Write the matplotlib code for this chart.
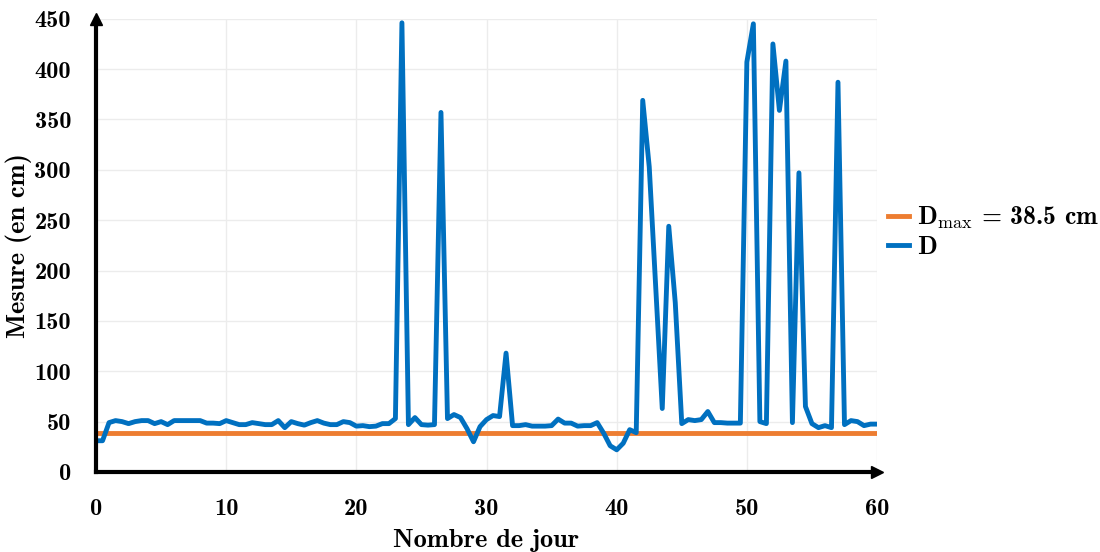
import numpy as np
import matplotlib
matplotlib.use('Agg')
import matplotlib.pyplot as plt
from matplotlib.ticker import MultipleLocator

plt.rcParams['font.family'] = ['cmb10', 'DejaVu Serif']
plt.rcParams['mathtext.fontset'] = 'cm'
plt.rcParams['axes.unicode_minus'] = False

# Daily measurements, one every half day
days = np.arange(0, 60.5, 0.5)
mesure = [
    31, 31, 49, 51, 50, 48, 50, 51, 51, 48,
    50, 47, 51, 51, 51, 51, 51, 48.5, 48.5, 48,
    51, 49, 47, 47, 49, 48, 47, 47, 51, 44,
    50, 48, 46.5, 49, 51, 48.5, 47, 47, 50, 49,
    45.5, 46, 45, 45.5, 48, 48, 53, 446, 47, 54,
    47, 46.5, 47, 357, 53, 57, 54, 43, 30, 45,
    52, 56, 55, 118, 46, 46, 47, 45.5, 45.5, 45.5,
    46, 52.5, 48.5, 48.5, 45.5, 46, 46, 49, 38.5, 26,
    22, 28.5, 42, 39, 369, 303, 183, 63, 244, 168,
    48, 52, 51, 52, 60, 49, 49, 48.5, 48.5, 48.5,
    407, 445, 50, 48, 425, 359, 408, 49, 297, 65,
    48, 44, 46, 44, 387, 47, 51, 50, 46, 47.5,
    47.5,
]
D_MAX = 38.5

fig = plt.figure(figsize=(11, 5.52), dpi=100)
ax = fig.add_axes([0.0873, 0.145, 0.71, 0.821])

ax.plot(days, np.full_like(days, D_MAX), color='#ED7D31', lw=3.5,
        label=r'D$_{\mathrm{max}}$ = 38.5 cm')
ax.plot(days, mesure, color='#0070C0', lw=3.5, label='D')

ax.set_xlim(0, 60)
ax.set_ylim(0, 450)
ax.xaxis.set_major_locator(MultipleLocator(10))
ax.yaxis.set_major_locator(MultipleLocator(50))
ax.tick_params(length=0, labelsize=17.5)
ax.tick_params(axis='x', pad=19)
ax.tick_params(axis='y', pad=18)

ax.grid(True, color='#ececec', lw=1)
ax.set_axisbelow(True)

for side in ['top', 'right']:
    ax.spines[side].set_visible(False)
for side in ['left', 'bottom']:
    ax.spines[side].set_linewidth(3)
    ax.spines[side].set_color('black')

# arrow heads at the end of both axes
ax.plot(1, 0, '>k', ms=8, transform=ax.transAxes, clip_on=False)
ax.plot(0, 1, '^k', ms=8, transform=ax.transAxes, clip_on=False)

ax.set_xlabel('Nombre de jour', fontsize=19, labelpad=6)
ax.set_ylabel('Mesure (en cm)', fontsize=19, labelpad=2)

ax.legend(loc='center left', bbox_to_anchor=(1.007, 0.53), frameon=False,
          fontsize=18.5, handlelength=0.85, handletextpad=0.3, labelspacing=0.2,
          borderaxespad=0.0, borderpad=0.2)

fig.savefig('out.png', dpi=100)
